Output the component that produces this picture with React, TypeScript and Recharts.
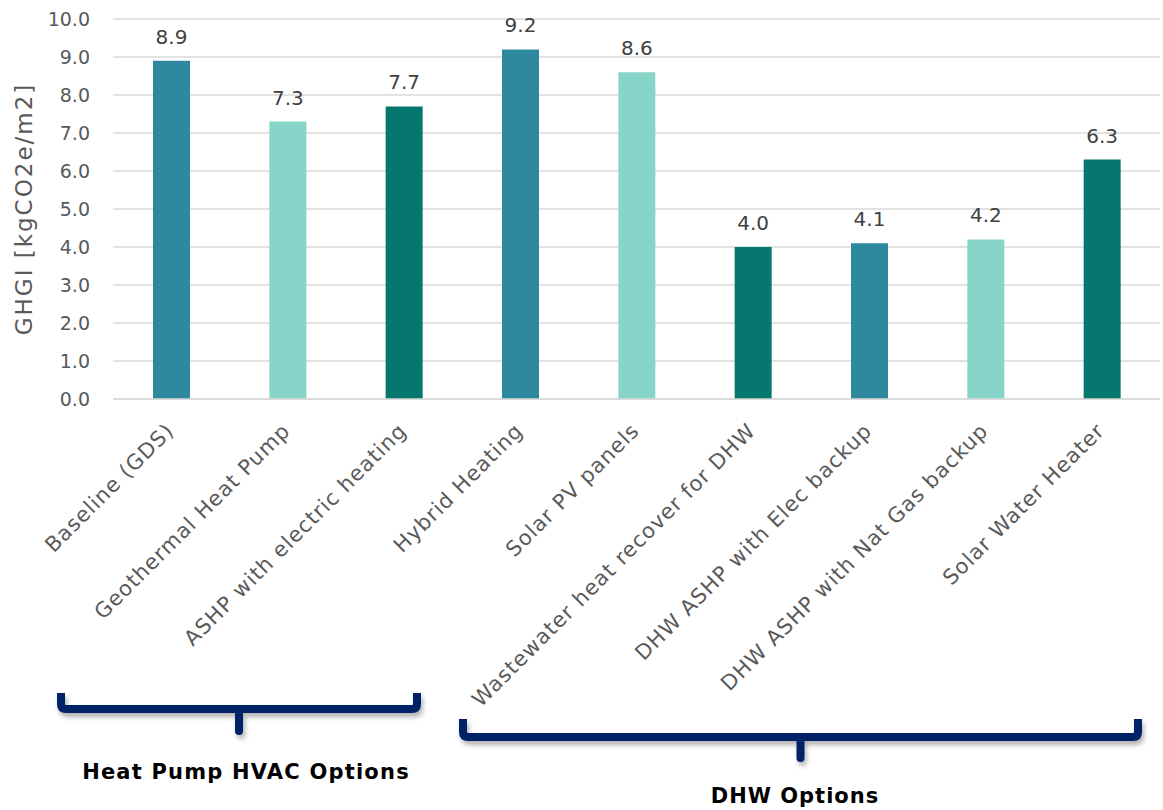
import { BarChart, Bar, XAxis, YAxis, CartesianGrid, Cell, LabelList } from 'recharts'

const categories = [
  'Baseline (GDS)',
  'Geothermal Heat Pump',
  'ASHP with electric heating',
  'Hybrid Heating',
  'Solar PV panels',
  'Wastewater heat recover for DHW',
  'DHW ASHP with Elec backup',
  'DHW ASHP with Nat Gas backup',
  'Solar Water Heater'
]
const ghgi = [8.9, 7.3, 7.7, 9.2, 8.6, 4.0, 4.1, 4.2, 6.3]
const yTicks = [0, 1, 2, 3, 4, 5, 6, 7, 8, 9, 10]
const groupNames = ['Heat Pump HVAC Options', 'DHW Options']

const barColors = ['#2E899E', '#87D5C9', '#06776F']
const FONT = '"DejaVu Sans", sans-serif'
const TEXT_GRAY = '#595959'
const NAVY = '#032266'

const data = categories.map((name, i) => ({ name, value: ghgi[i] }))

function CategoryTick({ x, y, payload }: any) {
  return (
    <g transform={`translate(${x + 4},${y + 33})`}>
      <text
        textAnchor="end"
        transform="rotate(-45)"
        fill={TEXT_GRAY}
        fontSize={21}
        letterSpacing={1}
        fontFamily={FONT}
      >
        {payload.value}
      </text>
    </g>
  )
}

// curly bracket under a group of categories
function Bracket({ left, right, top, mid, bottom }: { left: number; right: number; top: number; mid: number; bottom: number }) {
  const c = (left + right) / 2
  const r = 5
  return (
    <g filter="url(#bracketShadow)" stroke={NAVY} strokeWidth={8} fill="none">
      <path
        d={`M${left},${top} L${left},${mid - r} Q${left},${mid} ${left + r},${mid} L${right - r},${mid} Q${right},${mid} ${right},${mid - r} L${right},${top}`}
        strokeLinejoin="round"
      />
      <path d={`M${c},${mid} L${c},${bottom}`} strokeLinecap="round" />
    </g>
  )
}

export default function App() {
  return (
    <div style={{ position: 'absolute', left: 0, top: 0, width: 1163, height: 810, background: '#fff' }}>
      <BarChart
        width={1163}
        height={810}
        data={data}
        margin={{ top: 19, right: 3, left: 0, bottom: 0 }}
        style={{ fontFamily: FONT }}
      >
        <CartesianGrid vertical={false} stroke="#D9D9D9" strokeWidth={1.5} />
        <XAxis
          dataKey="name"
          interval={0}
          height={411}
          tickLine={false}
          tickSize={0}
          tickMargin={0}
          axisLine={{ stroke: '#D9D9D9', strokeWidth: 1.5 }}
          tick={<CategoryTick />}
        />
        <YAxis
          width={113}
          domain={[0, 10]}
          ticks={yTicks}
          interval={0}
          tickFormatter={(v: number) => v.toFixed(1)}
          axisLine={false}
          tickLine={false}
          tickSize={0}
          tickMargin={23}
          tick={{ fontSize: 19, fill: TEXT_GRAY, fontFamily: FONT }}
          label={{
            value: 'GHGI [kgCO2e/m2]',
            angle: -90,
            position: 'center',
            dx: -33,
            style: { fontSize: 23, letterSpacing: 2, fill: TEXT_GRAY, fontFamily: FONT }
          }}
        />
        <Bar dataKey="value" barSize={37} isAnimationActive={false}>
          {data.map((d, i) => (
            <Cell key={d.name} fill={barColors[i % barColors.length]} />
          ))}
          <LabelList
            dataKey="value"
            position="top"
            offset={17}
            formatter={(v: any) => Number(v).toFixed(1)}
            style={{ fontSize: 20, fill: '#404040', fontFamily: FONT }}
          />
        </Bar>
      </BarChart>

      <svg width={1163} height={810} style={{ position: 'absolute', left: 0, top: 0, pointerEvents: 'none' }}>
        <defs>
          <filter id="bracketShadow" x="-5%" y="-50%" width="110%" height="200%">
            <feDropShadow dx={2} dy={4} stdDeviation={2.5} floodColor="#000" floodOpacity={0.3} />
          </filter>
        </defs>
        <Bracket left={61} right={417} top={693} mid={709} bottom={731} />
        <Bracket left={463} right={1138} top={719} mid={737} bottom={758} />
        <text x={246} y={779} textAnchor="middle" fontSize={21} letterSpacing={1.2} fontWeight="bold" fill="#000" fontFamily={FONT}>
          {groupNames[0]}
        </text>
        <text x={795} y={803} textAnchor="middle" fontSize={21} letterSpacing={1} fontWeight="bold" fill="#000" fontFamily={FONT}>
          {groupNames[1]}
        </text>
      </svg>
    </div>
  )
}
